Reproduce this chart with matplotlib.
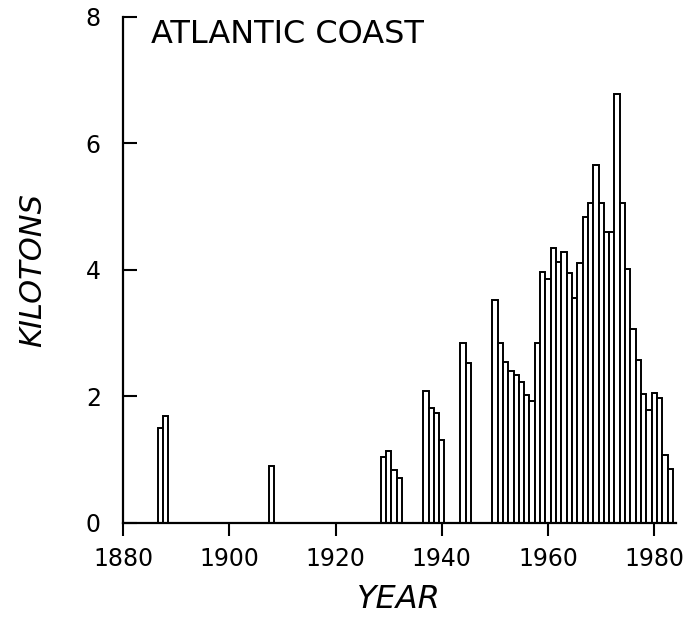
import matplotlib
matplotlib.use('Agg')
import matplotlib.pyplot as plt

# landings
years = [1887, 1888, 1908,
         1929, 1930, 1931, 1932,
         1937, 1938, 1939, 1940,
         1944, 1945,
         1950, 1951, 1952, 1953, 1954, 1955, 1956, 1957, 1958, 1959,
         1960, 1961, 1962, 1963, 1964, 1965, 1966, 1967, 1968, 1969,
         1970, 1971, 1972, 1973, 1974, 1975, 1976, 1977, 1978, 1979,
         1980, 1981, 1982, 1983]
kilotons = [1.50, 1.69, 0.90,
            1.04, 1.13, 0.84, 0.71,
            2.09, 1.81, 1.73, 1.31,
            2.84, 2.53,
            3.53, 2.85, 2.55, 2.40, 2.34, 2.22, 2.02, 1.92, 2.85, 3.97,
            3.85, 4.34, 4.12, 4.28, 3.95, 3.56, 4.10, 4.84, 5.06, 5.65,
            5.05, 4.60, 4.60, 6.78, 5.05, 4.02, 3.06, 2.57, 2.04, 1.78,
            2.06, 1.97, 1.07, 0.86]
xticks = [1880, 1900, 1920, 1940, 1960, 1980]
yticks = [0, 2, 4, 6, 8]

fig = plt.figure(figsize=(6.97, 6.17), dpi=100)
ax = fig.add_axes([0.1765, 0.1524, 0.7928, 0.8207])

ax.bar(years, kilotons, width=1.0, color='white', edgecolor='black',
       linewidth=1.4, align='center')

ax.set_xlim(1880, 1984)
ax.set_ylim(0, 8)
ax.spines['top'].set_visible(False)
ax.spines['right'].set_visible(False)
ax.spines['left'].set_linewidth(1.6)
ax.spines['bottom'].set_linewidth(1.6)

ax.set_xticks(xticks)
ax.set_yticks(yticks)
ax.tick_params(axis='x', direction='out', length=9, width=1.5, pad=8,
               labelsize=17)
ax.tick_params(axis='y', direction='in', length=10, width=1.5, pad=16,
               labelsize=17)

ax.set_xlabel('YEAR', fontsize=23, style='italic', labelpad=10)
ax.set_ylabel('KILOTONS', fontsize=22, style='italic', labelpad=28)

ax.text(0.05, 0.995, 'ATLANTIC COAST', transform=ax.transAxes,
        fontsize=23, ha='left', va='top')

fig.savefig('out.png', dpi=100)
